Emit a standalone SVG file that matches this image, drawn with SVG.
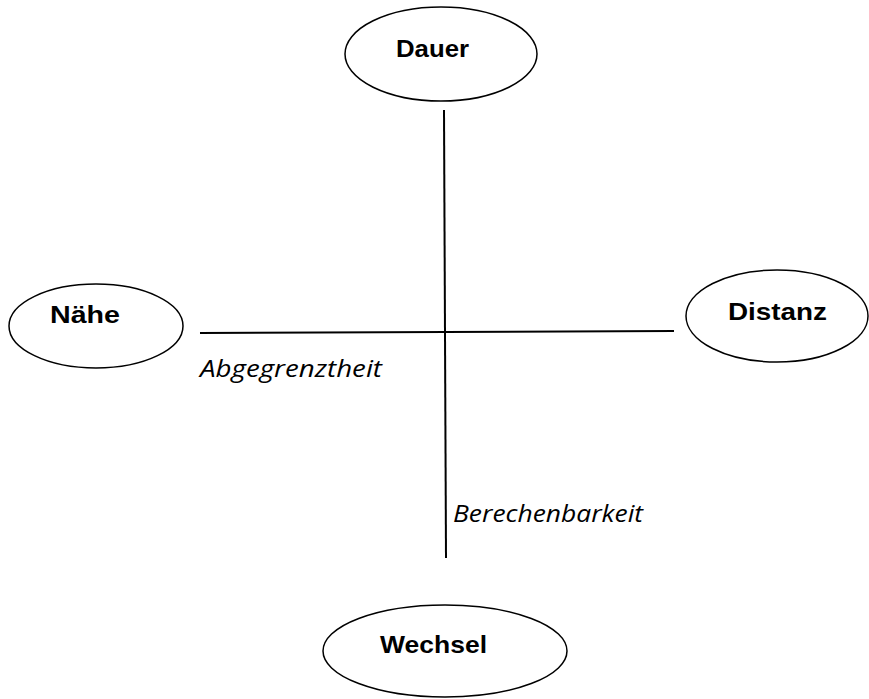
<svg xmlns="http://www.w3.org/2000/svg" width="869" height="699" viewBox="0 0 869 699">
<style>
.node ellipse{fill:#fff;stroke:#000;stroke-width:1.5}
.node text{font-family:"Liberation Sans",Arial,sans-serif;font-weight:bold;font-size:24px;fill:#000}
.conn line{stroke:#000;stroke-width:2}
.lbl{font-family:"Open Sans","Noto Sans",sans-serif;font-style:italic;font-size:24px;fill:#000}
</style>
<rect width="869" height="699" fill="#fff"/>
<g class="conn" id="connectors">
<line x1="444" y1="110" x2="446" y2="558"/>
<line x1="200" y1="333" x2="674" y2="331"/>
</g>
<g class="node" id="dauer"><ellipse cx="441" cy="54" rx="96" ry="47"/><text x="396" y="57" textLength="73" lengthAdjust="spacingAndGlyphs">Dauer</text></g>
<g class="node" id="naehe"><ellipse cx="96" cy="326" rx="87" ry="42"/><text x="50" y="323" textLength="70" lengthAdjust="spacingAndGlyphs">Nähe</text></g>
<g class="node" id="distanz"><ellipse cx="777" cy="316" rx="91" ry="46"/><text x="728" y="320" textLength="99" lengthAdjust="spacingAndGlyphs">Distanz</text></g>
<g class="node" id="wechsel"><ellipse cx="445" cy="651" rx="122" ry="46"/><text x="380" y="653" textLength="107" lengthAdjust="spacingAndGlyphs">Wechsel</text></g>
<text class="lbl" x="200" y="377" textLength="182" lengthAdjust="spacingAndGlyphs">Abgegrenztheit</text>
<text class="lbl" x="453" y="522" textLength="190" lengthAdjust="spacingAndGlyphs">Berechenbarkeit</text>
</svg>
